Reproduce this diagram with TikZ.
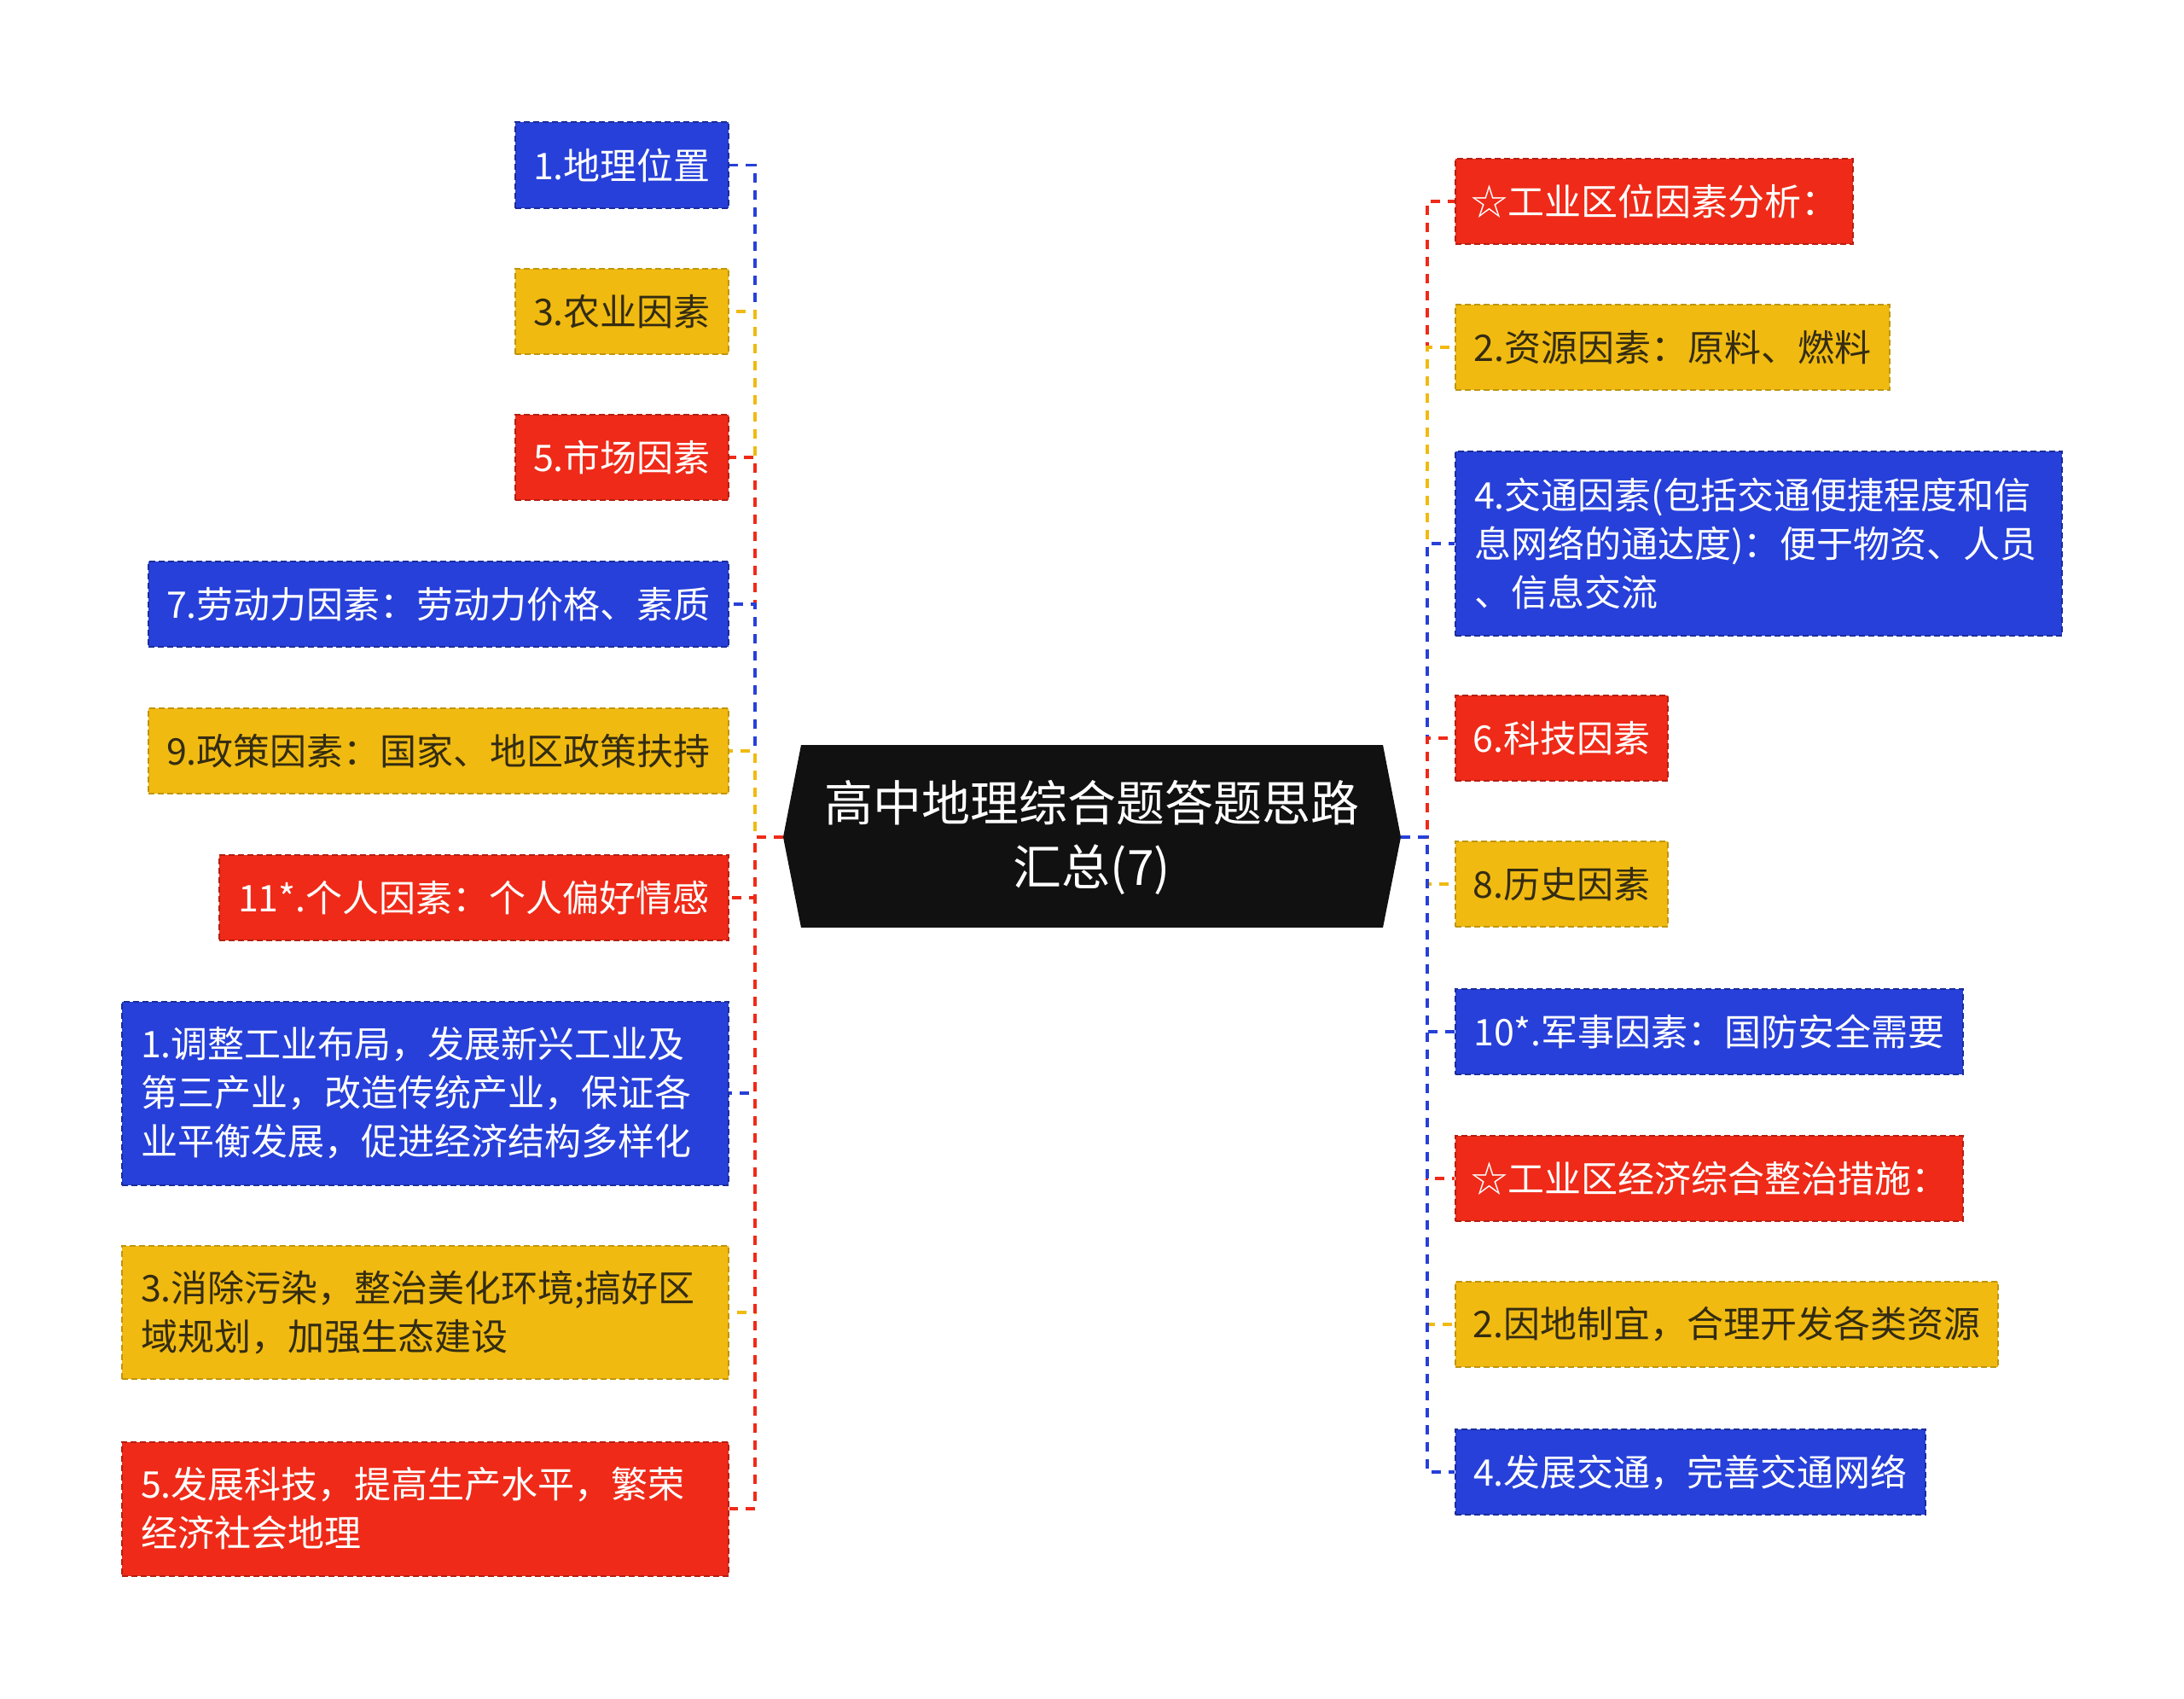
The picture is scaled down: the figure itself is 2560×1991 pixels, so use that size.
\documentclass[tikz,border=0pt]{standalone}
\usepackage{fontspec}
\setmainfont{Noto Sans CJK SC}
\definecolor{cblue}{RGB}{39,64,217}
\definecolor{cred}{RGB}{239,42,24}
\definecolor{cyel}{RGB}{240,186,17}
\definecolor{ctxt}{RGB}{52,44,18}
\definecolor{croot}{RGB}{17,17,17}
\tikzset{
  box/.style={draw, line width=2pt, dash pattern=on 7pt off 4pt, minimum height=100pt,
    inner xsep=18pt, inner ysep=0pt, align=left, font=\fontsize{43}{57}\selectfont},
  multi/.style={inner xsep=22pt, text width=#1},
  bbox/.style={box, fill=cblue, draw=cblue!70!black, text=white},
  rbox/.style={box, fill=cred, draw=cred!75!black, text=white},
  ybox/.style={box, fill=cyel, draw=cyel!80!black, text=ctxt},
  conn/.style={line width=3.5pt, dash pattern=on 11pt off 9pt}
}
\begin{document}
\begin{tikzpicture}[x=1pt,y=-1pt]
\useasboundingbox (0,0) rectangle (2560,1991);
% root
\fill[croot] (918,981) -- (939,873) -- (1621,873) -- (1642,981) -- (1621,1087) -- (939,1087) -- cycle;
\node[text=white, minimum width=724pt, minimum height=214pt, inner sep=0pt, align=center,
  font=\fontsize{57}{75}\selectfont] (root) at (1280,981) {高中地理综合题答题思路\\汇总(7)};
% left nodes
\node[bbox, anchor=east, minimum width=250pt] (L1) at (855,193.5) {1.地理位置};
\node[ybox, anchor=east, minimum width=250pt] (L2) at (855,365) {3.农业因素};
\node[rbox, anchor=east, minimum width=250pt] (L3) at (855,536) {5.市场因素};
\node[bbox, anchor=east, minimum width=680pt] (L4) at (855,708) {7.劳动力因素：劳动力价格、素质};
\node[ybox, anchor=east, minimum width=680pt] (L5) at (855,880) {9.政策因素：国家、地区政策扶持};
\node[rbox, anchor=east, minimum width=597pt] (L6) at (855,1052) {11*.个人因素：个人偏好情感};
\node[bbox, anchor=east, multi=667pt, minimum height=215pt] (L7) at (855,1281) {1.调整工业布局，发展新兴工业及\\第三产业，改造传统产业，保证各\\业平衡发展，促进经济结构多样化};
\node[ybox, anchor=east, multi=667pt, minimum height=156pt] (L8) at (855,1538) {3.消除污染，整治美化环境;搞好区\\域规划，加强生态建设};
\node[rbox, anchor=east, multi=667pt, minimum height=157pt] (L9) at (855,1768) {5.发展科技，提高生产水平，繁荣\\经济社会地理};
% right nodes
\node[rbox, anchor=west, minimum width=465pt] (R1) at (1705,236) {☆工业区位因素分析：};
\node[ybox, anchor=west, minimum width=509pt] (R2) at (1705,407) {2.资源因素：原料、燃料};
\node[bbox, anchor=west, multi=667pt, minimum height=216pt] (R3) at (1705,637) {4.交通因素(包括交通便捷程度和信\\息网络的通达度)：便于物资、人员\\、信息交流};
\node[rbox, anchor=west, minimum width=249pt] (R4) at (1705,865) {6.科技因素};
\node[ybox, anchor=west, minimum width=249pt] (R5) at (1705,1036) {8.历史因素};
\node[bbox, anchor=west, minimum width=595pt] (R6) at (1705,1209) {10*.军事因素：国防安全需要};
\node[rbox, anchor=west, minimum width=594pt] (R7) at (1705,1381) {☆工业区经济综合整治措施：};
\node[ybox, anchor=west, minimum width=636pt] (R8) at (1705,1552) {2.因地制宜，合理开发各类资源};
\node[bbox, anchor=west, minimum width=551pt] (R9) at (1705,1725) {4.发展交通，完善交通网络};
% trunks
\coordinate (lt) at (885,981);
\coordinate (rt) at (1673,981);
\draw[conn, cblue] (root.west) -- (lt) |- (L1.east);
\draw[conn, cyel] (root.west) -- (lt) |- (L2.east);
\draw[conn, cred] (root.west) -- (lt) |- (L3.east);
\draw[conn, cblue] (root.west) -- (lt) |- (L4.east);
\draw[conn, cyel] (root.west) -- (lt) |- (L5.east);
\draw[conn, cred] (root.west) -- (lt) |- (L6.east);
\draw[conn, cblue] (root.west) -- (lt) |- (L7.east);
\draw[conn, cyel] (root.west) -- (lt) |- (L8.east);
\draw[conn, cred] (root.west) -- (lt) |- (L9.east);
\draw[conn, cred] (root.east) -- (rt) |- (R1.west);
\draw[conn, cyel] (root.east) -- (rt) |- (R2.west);
\draw[conn, cblue] (root.east) -- (rt) |- (R3.west);
\draw[conn, cred] (root.east) -- (rt) |- (R4.west);
\draw[conn, cyel] (root.east) -- (rt) |- (R5.west);
\draw[conn, cblue] (root.east) -- (rt) |- (R6.west);
\draw[conn, cred] (root.east) -- (rt) |- (R7.west);
\draw[conn, cyel] (root.east) -- (rt) |- (R8.west);
\draw[conn, cblue] (root.east) -- (rt) |- (R9.west);
\end{tikzpicture}
\end{document}
